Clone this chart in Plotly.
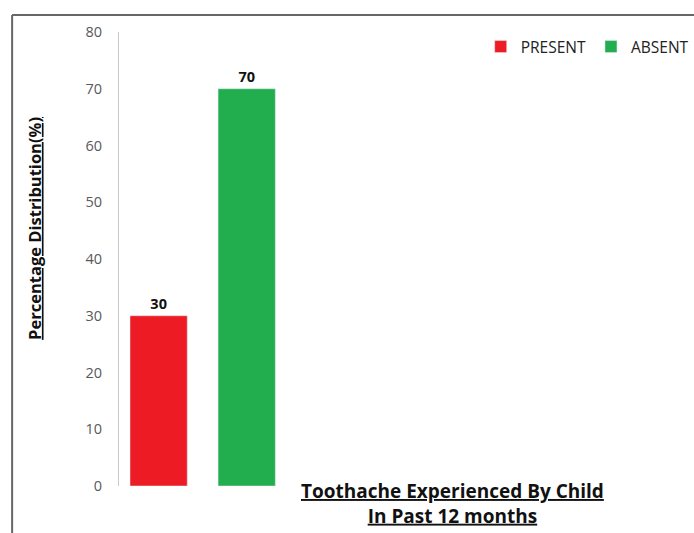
import plotly.graph_objects as go

categories = ["PRESENT", "ABSENT"]
values = [30, 70]
colors = ["#ED1C24", "#22AD4E"]
y_ticks = [0, 10, 20, 30, 40, 50, 60, 70, 80]

fig = go.Figure()
for cat, val, col in zip(categories, values, colors):
    fig.add_trace(go.Bar(
        x=[cat], y=[val], name=cat, marker_color=col, width=0.65,
        text=[str(val)], textposition="outside",
        textfont=dict(family="Open Sans", size=14.5, color="#111111", weight="bold"),
        cliponaxis=False,
    ))

W, H = 694, 533
L, T, B = 119, 32, 47
pw = W - L
ph = H - T - B

fig.update_layout(
    width=W, height=H,
    margin=dict(l=L, r=0, t=T, b=B),
    paper_bgcolor="white", plot_bgcolor="white",
    barmode="overlay",
    showlegend=True,
    legend=dict(orientation="h", x=1.01, xanchor="right", y=1 - (47 - T) / ph, yanchor="middle",
                font=dict(family="Open Sans", size=15.5, color="#222222"),
                itemwidth=30, tracegroupgap=0, bgcolor="rgba(0,0,0,0)"),
    xaxis=dict(range=[-0.45, -0.45 + pw / 89.0], showticklabels=False, showline=False,
               showgrid=False, zeroline=False, ticks=""),
    yaxis=dict(range=[0, 80], tickvals=y_ticks, showgrid=False, zeroline=False,
               showline=True, linecolor="#C8C8C8", linewidth=1, ticks="",
               ticklabelstandoff=13,
               tickfont=dict(family="Open Sans", size=14.5, color="#595959")),
    font=dict(family="Open Sans"),
)

# frame
fig.add_shape(type="line", xref="paper", yref="paper",
              x0=(11 - L) / pw, x1=(11 - L) / pw, y0=1 + (T - 15) / ph, y1=-(B + 5) / ph,
              line=dict(color="#666666", width=2))
fig.add_shape(type="line", xref="paper", yref="paper",
              x0=(11 - L) / pw, x1=1.05, y0=1 + (T - 15) / ph, y1=1 + (T - 15) / ph,
              line=dict(color="#666666", width=2))

# y title
fig.add_annotation(text="<b><u>Percentage Distribution(%)</u></b>", textangle=-90,
                   xref="paper", yref="paper", x=(33 - L) / pw, y=1 - (228 - T) / ph,
                   xanchor="center", yanchor="middle", showarrow=False,
                   font=dict(family="Open Sans", size=16.5, color="#111111"))
# x title
fig.add_annotation(text="<b><u>Toothache Experienced By Child</u></b><br><b><u>In Past 12 months</u></b>",
                   xref="paper", yref="paper", x=(456 - L) / pw, y=1 - (503 - T) / ph,
                   xanchor="center", yanchor="middle", showarrow=False,
                   font=dict(family="Open Sans", size=19, color="#111111"))

fig.write_html("out.html")
